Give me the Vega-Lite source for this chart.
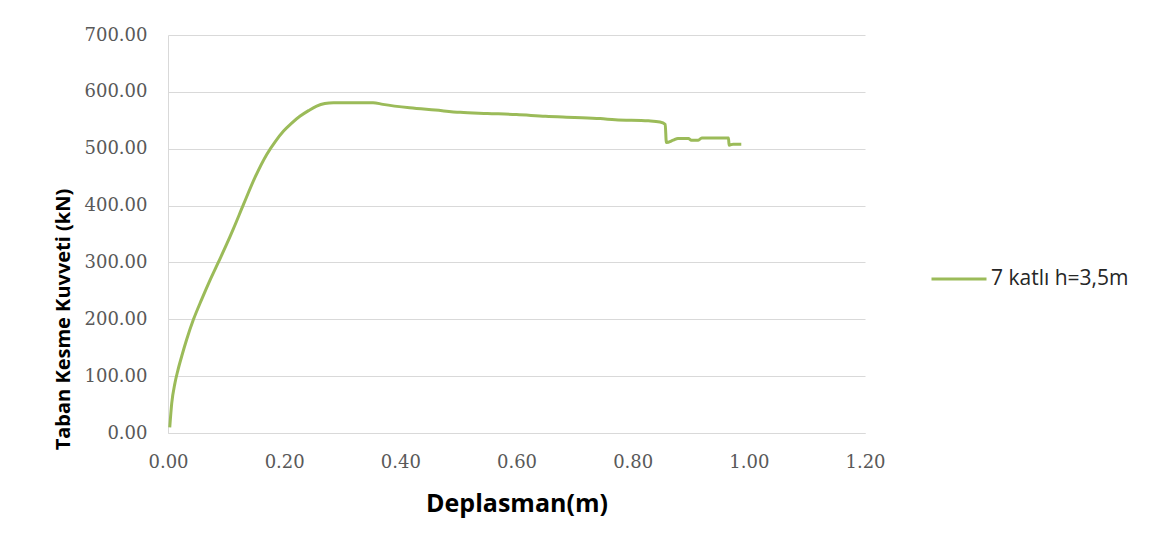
{
  "$schema": "https://vega.github.io/schema/vega-lite/v6.json",
  "width": 697,
  "height": 398,
  "autosize": {"type": "none"},
  "padding": {"left": 168, "top": 35, "right": 305, "bottom": 115},
  "background": "white",
  "config": {"view": {"stroke": null}},
  "data": {"values": [
    {"d": 0.003, "v": 10, "s": "7 katlı h=3,5m"},
    {"d": 0.0064, "v": 52, "s": "7 katlı h=3,5m"},
    {"d": 0.012, "v": 88, "s": "7 katlı h=3,5m"},
    {"d": 0.0167, "v": 109, "s": "7 katlı h=3,5m"},
    {"d": 0.0236, "v": 135, "s": "7 katlı h=3,5m"},
    {"d": 0.032, "v": 164, "s": "7 katlı h=3,5m"},
    {"d": 0.0436, "v": 199, "s": "7 katlı h=3,5m"},
    {"d": 0.058, "v": 235, "s": "7 katlı h=3,5m"},
    {"d": 0.072, "v": 268, "s": "7 katlı h=3,5m"},
    {"d": 0.0866, "v": 300, "s": "7 katlı h=3,5m"},
    {"d": 0.101, "v": 332, "s": "7 katlı h=3,5m"},
    {"d": 0.1125, "v": 359, "s": "7 katlı h=3,5m"},
    {"d": 0.13, "v": 402, "s": "7 katlı h=3,5m"},
    {"d": 0.15, "v": 450, "s": "7 katlı h=3,5m"},
    {"d": 0.17, "v": 490, "s": "7 katlı h=3,5m"},
    {"d": 0.185, "v": 513, "s": "7 katlı h=3,5m"},
    {"d": 0.199, "v": 531, "s": "7 katlı h=3,5m"},
    {"d": 0.213, "v": 545, "s": "7 katlı h=3,5m"},
    {"d": 0.227, "v": 557, "s": "7 katlı h=3,5m"},
    {"d": 0.242, "v": 567, "s": "7 katlı h=3,5m"},
    {"d": 0.256, "v": 575, "s": "7 katlı h=3,5m"},
    {"d": 0.27, "v": 579.5, "s": "7 katlı h=3,5m"},
    {"d": 0.285, "v": 581, "s": "7 katlı h=3,5m"},
    {"d": 0.353, "v": 581, "s": "7 katlı h=3,5m"},
    {"d": 0.37, "v": 578, "s": "7 katlı h=3,5m"},
    {"d": 0.416, "v": 572, "s": "7 katlı h=3,5m"},
    {"d": 0.46, "v": 568, "s": "7 katlı h=3,5m"},
    {"d": 0.503, "v": 564, "s": "7 katlı h=3,5m"},
    {"d": 0.55, "v": 562, "s": "7 katlı h=3,5m"},
    {"d": 0.6, "v": 560, "s": "7 katlı h=3,5m"},
    {"d": 0.65, "v": 557, "s": "7 katlı h=3,5m"},
    {"d": 0.7, "v": 555, "s": "7 katlı h=3,5m"},
    {"d": 0.744, "v": 553, "s": "7 katlı h=3,5m"},
    {"d": 0.77, "v": 551, "s": "7 katlı h=3,5m"},
    {"d": 0.827, "v": 549, "s": "7 katlı h=3,5m"},
    {"d": 0.847, "v": 547, "s": "7 katlı h=3,5m"},
    {"d": 0.856, "v": 543, "s": "7 katlı h=3,5m"},
    {"d": 0.858, "v": 511, "s": "7 katlı h=3,5m"},
    {"d": 0.87, "v": 515, "s": "7 katlı h=3,5m"},
    {"d": 0.878, "v": 518, "s": "7 katlı h=3,5m"},
    {"d": 0.896, "v": 518, "s": "7 katlı h=3,5m"},
    {"d": 0.901, "v": 515, "s": "7 katlı h=3,5m"},
    {"d": 0.913, "v": 515, "s": "7 katlı h=3,5m"},
    {"d": 0.919, "v": 519, "s": "7 katlı h=3,5m"},
    {"d": 0.965, "v": 519, "s": "7 katlı h=3,5m"},
    {"d": 0.966, "v": 506, "s": "7 katlı h=3,5m"},
    {"d": 0.973, "v": 508, "s": "7 katlı h=3,5m"},
    {"d": 0.987, "v": 508, "s": "7 katlı h=3,5m"}
  ]},
  "mark": {"type": "line", "strokeWidth": 3, "interpolate": "monotone"},
  "encoding": {
    "x": {
      "field": "d", "type": "quantitative",
      "scale": {"domain": [0, 1.2], "nice": false},
      "axis": {
        "values": [0, 0.2, 0.4, 0.6, 0.8, 1.0, 1.2],
        "format": ".2f",
        "title": "Deplasman(m)",
        "grid": false,
        "ticks": false,
        "domainColor": "#d9d9d9",
        "domainWidth": 1,
        "labelFont": "DejaVu Serif",
        "labelFontSize": 18,
        "labelColor": "#595959",
        "labelPadding": 20,
        "labelFlush": false,
        "titleFont": "Open Sans",
        "titleFontSize": 25,
        "titleFontWeight": "bold",
        "titleColor": "#000000",
        "titleY": 70,
        "titleBaseline": "middle"
      }
    },
    "y": {
      "field": "v", "type": "quantitative",
      "scale": {"domain": [0, 700], "nice": false},
      "axis": {
        "values": [0, 100, 200, 300, 400, 500, 600, 700],
        "format": ".2f",
        "title": "Taban Kesme Kuvveti (kN)",
        "grid": true,
        "gridColor": "#d9d9d9",
        "gridWidth": 1,
        "ticks": false,
        "domainColor": "#d9d9d9",
        "domainWidth": 1,
        "labelFont": "DejaVu Serif",
        "labelFontSize": 18,
        "labelColor": "#595959",
        "labelPadding": 21,
        "labelFlush": false,
        "titleFont": "Open Sans",
        "titleFontSize": 20,
        "titleFontWeight": "bold",
        "titleColor": "#000000",
        "titleAngle": 270,
        "titleX": -105,
        "titleY": 284,
        "titleAlign": "center",
        "titleBaseline": "middle"
      }
    },
    "color": {
      "field": "s", "type": "nominal",
      "scale": {"range": ["#9BBB59"]},
      "legend": {
        "title": null,
        "orient": "none",
        "legendX": 762,
        "legendY": 215,
        "symbolType": "stroke",
        "symbolSize": 3025,
        "symbolStrokeWidth": 3,
        "labelFont": "Open Sans",
        "labelFontSize": 21,
        "labelColor": "#262626",
        "labelOffset": 3,
        "labelLimit": 300
      }
    }
  }
}
